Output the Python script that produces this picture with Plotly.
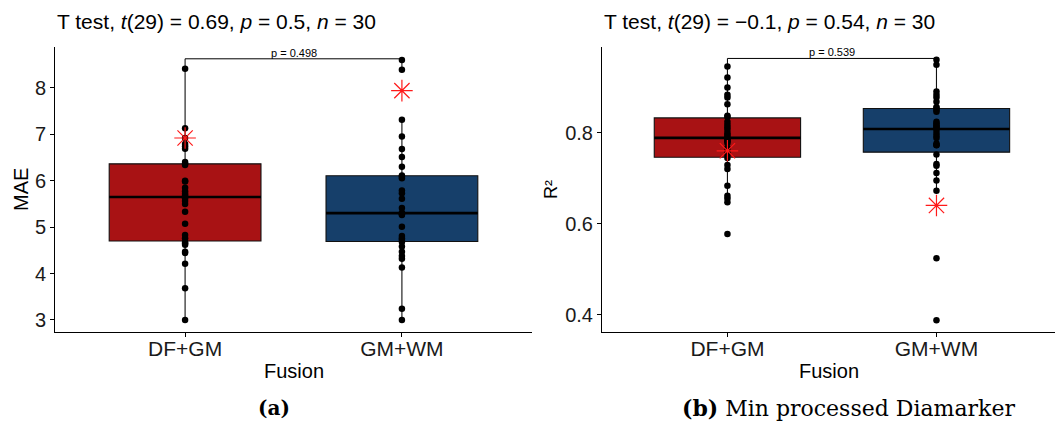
import numpy as np
import plotly.graph_objects as go

# ---- data -----------------------------------------------------------------
categories = ["DF+GM", "GM+WM"]

mae_df_gm = [3.00, 3.68, 4.21, 4.44, 4.47, 4.62, 4.65, 4.68, 4.76, 4.83,
             5.07, 5.33, 5.50, 5.56, 5.62, 5.68, 5.72, 5.77, 5.85, 5.98,
             6.00, 6.34, 6.37, 6.40, 6.69, 6.74, 6.79, 6.92, 7.13, 8.41]
mae_gm_wm = [3.00, 3.24, 4.13, 4.32, 4.38, 4.47, 4.58, 4.68, 4.72, 4.76,
             4.81, 5.01, 5.26, 5.28, 5.29, 5.31, 5.41, 5.61, 5.73, 5.79,
             6.05, 6.09, 6.11, 6.30, 6.51, 6.68, 6.95, 7.31, 8.39, 8.60]

r2_df_gm = [0.577, 0.647, 0.655, 0.661, 0.683, 0.720, 0.729, 0.744, 0.752, 0.758,
            0.766, 0.777, 0.781, 0.784, 0.786, 0.791, 0.795, 0.799, 0.806, 0.812,
            0.817, 0.824, 0.835, 0.837, 0.862, 0.877, 0.883, 0.899, 0.921, 0.945]
r2_gm_wm = [0.388, 0.524, 0.672, 0.695, 0.711, 0.727, 0.731, 0.752, 0.772, 0.773,
            0.776, 0.788, 0.793, 0.799, 0.806, 0.810, 0.813, 0.816, 0.820, 0.824,
            0.846, 0.850, 0.854, 0.856, 0.868, 0.877, 0.883, 0.890, 0.949, 0.960]

# highlighted reference values (red asterisks)
mae_highlight = [6.92, 7.94]
r2_highlight = [0.760, 0.640]

p_values = ["p = 0.498", "p = 0.539"]
titles = ["T test, <i>t</i>(29) = 0.69, <i>p</i> = 0.5, <i>n</i> = 30",
          "T test, <i>t</i>(29) = \u22120.1, <i>p</i> = 0.54, <i>n</i> = 30"]
x_title = "Fusion"
y_titles = ["MAE", "R\u00b2"]
captions = ["<b>(a)</b>", "<b>(b)</b> Min processed Diamarker"]

fills = ["#A81214", "#163F6A"]

# ---- layout geometry -------------------------------------------------------
W, H = 1055, 430
FONT = "Liberation Sans, Arial, sans-serif"
SERIF = "DejaVu Serif, serif"
BOX_W = 0.7
STAR_RED = "#FF1A1A"

def px(v, total):
    return v / total

panels = [
    dict(groups=[mae_df_gm, mae_gm_wm], hl=mae_highlight, xdom=[55, 532],
         xrange=[0.4, 2.6], yrange=[2.74, 8.88], ticks=[3, 4, 5, 6, 7, 8],
         ytitle_x=21, ytitle_size=20),
    dict(groups=[r2_df_gm, r2_gm_wm], hl=r2_highlight, xdom=[602, 1055],
         xrange=[0.4, 2.567], yrange=[0.362, 0.988], ticks=[0.4, 0.6, 0.8],
         ytitle_x=551, ytitle_size=18),
]

fig = go.Figure()
ydom = [px(H - 332, H), px(H - 47, H)]


def tukey_stats(vals):
    v = np.sort(np.asarray(vals, dtype=float))
    q1, med, q3 = np.percentile(v, [25, 50, 75])
    iqr = q3 - q1
    lo = v[v >= q1 - 1.5 * iqr].min()
    hi = v[v <= q3 + 1.5 * iqr].max()
    return q1, med, q3, lo, hi


for i, p in enumerate(panels):
    xa = "x" if i == 0 else "x2"
    ya = "y" if i == 0 else "y2"
    all_vals = []
    for j, vals in enumerate(p["groups"]):
        xpos = j + 1
        q1, med, q3, lo, hi = tukey_stats(vals)
        all_vals += list(vals)
        fig.add_trace(go.Box(
            x=[xpos], q1=[q1], median=[med], q3=[q3],
            lowerfence=[lo], upperfence=[hi], width=BOX_W,
            fillcolor=fills[j], line=dict(color="#111111", width=1.1),
            whiskerwidth=0, boxpoints=False, showlegend=False,
            hoverinfo="skip", xaxis=xa, yaxis=ya))
        # thicker median bar
        fig.add_trace(go.Scatter(
            x=[xpos - BOX_W / 2, xpos + BOX_W / 2], y=[med, med],
            mode="lines", line=dict(color="black", width=2.6),
            showlegend=False, hoverinfo="skip", xaxis=xa, yaxis=ya))
        # individual observations
        fig.add_trace(go.Scatter(
            x=[xpos] * len(vals), y=vals, mode="markers",
            marker=dict(color="black", size=6.5),
            showlegend=False, hoverinfo="skip", xaxis=xa, yaxis=ya))
    # red asterisks
    fig.add_trace(go.Scatter(
        x=[1, 2], y=p["hl"], mode="markers",
        marker=dict(symbol="asterisk-open", size=18, color=STAR_RED,
                    line=dict(color=STAR_RED, width=1.2)),
        showlegend=False, hoverinfo="skip", xaxis=xa, yaxis=ya))

    # comparison bracket
    top = max(all_vals) * 1.003
    tip = 0.03 * (p["yrange"][1] - p["yrange"][0])
    fig.add_trace(go.Scatter(
        x=[1, 1, 2, 2], y=[top - tip, top, top, top - tip], mode="lines",
        line=dict(color="black", width=1), showlegend=False,
        hoverinfo="skip", xaxis=xa, yaxis=ya))
    fig.add_annotation(
        x=1.5, y=top, xref=xa, yref=ya, text=p_values[i], showarrow=False,
        yanchor="bottom", yshift=-2, font=dict(family=FONT, size=11, color="black"))

    axis_common = dict(
        showline=True, linecolor="black", linewidth=1, mirror=False,
        ticks="outside", ticklen=4, tickcolor="black", tickwidth=1,
        showgrid=False, zeroline=False)
    xkey = "xaxis" if i == 0 else "xaxis2"
    ykey = "yaxis" if i == 0 else "yaxis2"
    fig.update_layout({
        xkey: dict(axis_common, domain=[px(p["xdom"][0], W), px(p["xdom"][1], W)],
                   range=p["xrange"], tickvals=[1, 2], ticktext=categories,
                   anchor=ya, ticklabelstandoff=-6,
                   tickfont=dict(family=FONT, size=21, color="#1A1A1A")),
        ykey: dict(axis_common, domain=ydom, range=p["yrange"],
                   tickvals=p["ticks"], anchor=xa,
                   tickfont=dict(family=FONT, size=20, color="#1A1A1A")),
    })

    # axis titles
    xmid = (p["xdom"][0] + p["xdom"][1]) / 2
    fig.add_annotation(
        x=px(xmid, W), y=px(H - 371, H), xref="paper", yref="paper",
        text=x_title, showarrow=False, xanchor="center", yanchor="middle",
        font=dict(family=FONT, size=20, color="black"))
    fig.add_annotation(
        x=px(p["ytitle_x"], W), y=px(H - 190, H), xref="paper", yref="paper",
        text=y_titles[i], showarrow=False, textangle=-90,
        xanchor="center", yanchor="middle",
        font=dict(family=FONT, size=p["ytitle_size"], color="black"))

    # panel title
    fig.add_annotation(
        x=px(p["xdom"][0], W), y=px(H - 22, H), xref="paper", yref="paper",
        xanchor="left", yanchor="middle", text=titles[i], showarrow=False,
        font=dict(family=FONT, size=21, color="black"))

# subfigure captions
fig.add_annotation(x=px(274, W), y=px(H - 408, H), xref="paper", yref="paper",
                   text=captions[0], showarrow=False, xanchor="center",
                   yanchor="middle",
                   font=dict(family=SERIF, size=20, color="black"))
fig.add_annotation(x=px(848, W), y=px(H - 408, H), xref="paper", yref="paper",
                   text=captions[1], showarrow=False, xanchor="center",
                   yanchor="middle",
                   font=dict(family=SERIF, size=22, color="black"))

fig.update_layout(
    width=W, height=H, margin=dict(l=0, r=0, t=0, b=0),
    paper_bgcolor="white", plot_bgcolor="white",
)

fig.write_html("out.html")
